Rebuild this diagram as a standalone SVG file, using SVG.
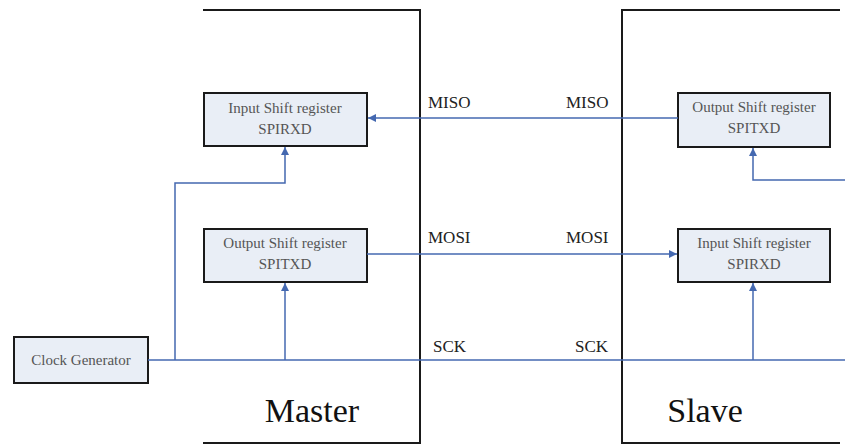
<svg xmlns="http://www.w3.org/2000/svg" width="845" height="446" viewBox="0 0 845 446">
<defs>
<marker id="ah" viewBox="0 0 10 10" refX="10" refY="5" markerWidth="9" markerHeight="8" markerUnits="userSpaceOnUse" orient="auto">
<path d="M0,0 L10,5 L0,10 z" fill="#4468b0"/>
</marker>
<style>
.frame{fill:none;stroke:#1a1a1a;stroke-width:2}
.box{fill:#e9eef6;stroke:#1a1a1a;stroke-width:2}
.bt{font-family:"Liberation Serif",serif;font-size:15px;fill:#555;text-anchor:middle}
.sig{font-family:"Liberation Serif",serif;font-size:17px;fill:#222}
.big{font-family:"Liberation Serif",serif;font-size:34px;fill:#111}
.wire{fill:none;stroke:#4468b0;stroke-width:1.5}
</style>
</defs>
<rect width="845" height="446" fill="#ffffff"/>
<g id="master">
<polyline class="frame" points="203,10 420,10 420,443 203,443"/>
<text class="big" x="312" y="422" text-anchor="middle">Master</text>
</g>
<g id="slave">
<polyline class="frame" points="840,10 622,10 622,443 840,443"/>
<text class="big" x="705" y="422" text-anchor="middle">Slave</text>
</g>
<g id="master-input">
<rect class="box" x="204" y="93" width="163" height="53"/>
<text class="bt" x="285" y="113">Input Shift register</text>
<text class="bt" x="285" y="134">SPIRXD</text>
</g>
<g id="master-output">
<rect class="box" x="204" y="229" width="163" height="53"/>
<text class="bt" x="285" y="248">Output Shift register</text>
<text class="bt" x="285" y="269">SPITXD</text>
</g>
<g id="slave-output">
<rect class="box" x="678" y="93" width="152" height="54"/>
<text class="bt" x="754" y="112">Output Shift register</text>
<text class="bt" x="754" y="133">SPITXD</text>
</g>
<g id="slave-input">
<rect class="box" x="678" y="229" width="152" height="53"/>
<text class="bt" x="754" y="248">Input Shift register</text>
<text class="bt" x="754" y="269">SPIRXD</text>
</g>
<g id="clock">
<rect class="box" x="14" y="337" width="134" height="46"/>
<text class="bt" x="81" y="365">Clock Generator</text>
</g>
<g id="connectors">
<line class="wire" x1="678" y1="118" x2="368" y2="118" marker-end="url(#ah)"/>
<line class="wire" x1="367" y1="254" x2="677" y2="254" marker-end="url(#ah)"/>
<line class="wire" x1="148" y1="360" x2="845" y2="360"/>
<polyline class="wire" points="175,360 175,183 285,183 285,147" marker-end="url(#ah)"/>
<line class="wire" x1="285" y1="360" x2="285" y2="283" marker-end="url(#ah)"/>
<line class="wire" x1="753" y1="360" x2="753" y2="283" marker-end="url(#ah)"/>
<polyline class="wire" points="845,180 753,180 753,148" marker-end="url(#ah)"/>
</g>
<g id="labels">
<text class="sig" x="428" y="108">MISO</text>
<text class="sig" x="566" y="108">MISO</text>
<text class="sig" x="428" y="243">MOSI</text>
<text class="sig" x="566" y="243">MOSI</text>
<text class="sig" x="433" y="352">SCK</text>
<text class="sig" x="575" y="352">SCK</text>
</g>
</svg>
